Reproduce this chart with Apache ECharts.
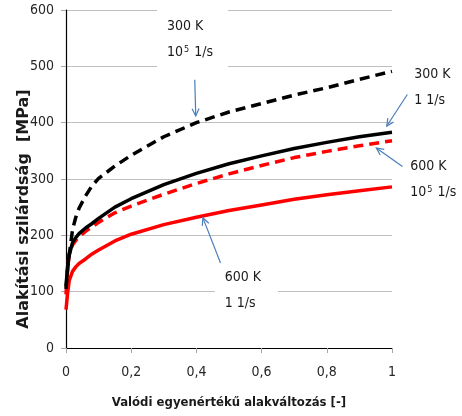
<!DOCTYPE html>
<html>
<head>
<meta charset="utf-8">
<script src="https://cdn.jsdelivr.net/npm/echarts@6/dist/echarts.min.js"></script>
<style>
  html, body { margin: 0; padding: 0; background: #fff; }
  #main { width: 462px; height: 416px; }
</style>
</head>
<body>
<div id="main"></div>
<script>
// true equivalent strain (x) and flow stress in MPa for each curve
var strain   = [0, 0.005, 0.01, 0.02, 0.03, 0.04, 0.06, 0.08, 0.1, 0.15, 0.2, 0.3, 0.4, 0.5, 0.6, 0.7, 0.8, 0.9, 1.0];
var k300Fast = [105, 140, 165, 210, 232, 248, 270, 288, 301, 323, 342, 375, 400, 419, 434, 449, 462, 477, 491];
var k300Slow = [110, 145, 165, 187, 196, 203, 213, 221, 230, 250, 265, 290, 310, 327, 341, 354, 365, 375, 383];
var k600Fast = [95, 140, 168, 183, 191, 197, 207, 215, 223, 240, 252, 273, 292, 309, 324, 338, 349, 359, 368];
var k600Slow = [68, 98, 120, 136, 144, 150, 158, 167, 174, 190, 202, 219, 232, 244, 254, 264, 272, 279, 286];

var xTitle = 'Valódi egyenértékű alakváltozás [-]';
var yTitle = 'Alakítási szilárdság  [MPa]';

function pairs(ys) {
  return strain.map(function (x, i) { return [x, ys[i]]; });
}

var chart = echarts.init(document.getElementById('main'));
var narrow = '"DejaVu Sans Condensed", "Liberation Sans", sans-serif';
var tickFont = { fontFamily: narrow, fontSize: 14, color: '#262626' };
var gray = '#a6a6a6';

function curve(name, ys, color, dashed) {
  return {
    name: name,
    type: 'line',
    data: pairs(ys),
    symbol: 'none',
    smooth: false,
    lineStyle: { color: color, width: 3.5, type: dashed ? [10, 6] : 'solid', join: 'round' },
    silent: true
  };
}

chart.setOption({
  animation: false,
  backgroundColor: '#ffffff',
  grid: { left: 66, right: 70, top: 10, bottom: 68, outerBoundsMode: 'none' },
  xAxis: [{
    type: 'value', min: 0, max: 1, interval: 0.2,
    name: xTitle, nameLocation: 'middle', nameGap: 48,
    nameTextStyle: { fontFamily: narrow, fontSize: 13, fontWeight: 'bold', color: '#1a1a1a' },
    axisLine: { lineStyle: { color: gray, width: 1 } },
    axisTick: { show: true, length: 5, lineStyle: { color: gray } },
    axisLabel: Object.assign({ margin: 17, formatter: function (v) { return String(v).replace('.', ','); } }, tickFont),
    splitLine: { show: false }
  }, {
    type: 'value', min: 0, max: 1, position: 'top',
    axisLine: { show: true, lineStyle: { color: '#000', width: 1.2 } },
    axisTick: { show: false }, axisLabel: { show: false }, splitLine: { show: false }
  }],
  yAxis: [{
    type: 'value', min: 0, max: 600, interval: 100,
    axisLine: { show: true, lineStyle: { color: gray, width: 1 } },
    axisTick: { show: true, length: 5, lineStyle: { color: gray } },
    axisLabel: Object.assign({ margin: 12 }, tickFont),
    splitLine: { show: true, lineStyle: { color: '#bfbfbf', width: 1 } }
  }, {
    type: 'value', min: 0, max: 600, position: 'right',
    axisLine: { show: true, lineStyle: { color: '#000', width: 1.2 } },
    axisTick: { show: false }, axisLabel: { show: false }, splitLine: { show: false }
  }],
  series: [
    curve('600 K 10^5 1/s', k600Fast, '#ff0000', true),
    curve('600 K 1 1/s', k600Slow, '#ff0000', false),
    curve('300 K 10^5 1/s', k300Fast, '#000000', true),
    curve('300 K 1 1/s', k300Slow, '#000000', false)
  ]
});

// annotations: text anchor and arrow ends in data units
var notes = [
  { text: '300 K\n10{s|5} 1/s', at: [0.31, 594], box: [-10, -9, 71, 64], from: [0.395, 476], to: [0.398, 412] },
  { text: '300 K\n1 1/s', at: [1.068, 508], from: [1.047, 450], to: [0.984, 394] },
  { text: '600 K\n10{s|5} 1/s', at: [1.056, 345], from: [1.032, 322], to: [0.952, 355] },
  { text: '600 K\n1 1/s', at: [0.487, 148], box: [-10, -3, 63, 56], from: [0.474, 151], to: [0.42, 231] }
];

var arrowColor = '#4a7ebb';
var els = [];
notes.forEach(function (n) {
  var p = chart.convertToPixel({ gridIndex: 0 }, n.at);
  if (n.box) {
    els.push({ type: 'rect', z: 100, shape: { x: p[0] + n.box[0], y: p[1] + n.box[1], width: n.box[2], height: n.box[3] },
      style: { fill: '#fff' } });
  }
  els.push({ type: 'text', z: 101, x: p[0], y: p[1], style: {
    text: n.text, fontFamily: narrow, fontSize: 14, fill: '#1a1a1a',
    lineHeight: 26, align: 'left', verticalAlign: 'top',
    rich: { s: { fontSize: 9, lineHeight: 12, verticalAlign: 'top', padding: [6, 1, 0, 1], fontFamily: narrow, fill: '#1a1a1a' } }
  } });
  var a = chart.convertToPixel({ gridIndex: 0 }, n.from);
  var b = chart.convertToPixel({ gridIndex: 0 }, n.to);
  var ang = Math.atan2(b[1] - a[1], b[0] - a[0]);
  var hl = 8, spread = 0.45;
  els.push({ type: 'line', z: 102, shape: { x1: a[0], y1: a[1], x2: b[0], y2: b[1] },
    style: { stroke: arrowColor, lineWidth: 1.2 } });
  els.push({ type: 'polyline', z: 102, shape: { points: [
      [b[0] - hl * Math.cos(ang - spread), b[1] - hl * Math.sin(ang - spread)],
      [b[0], b[1]],
      [b[0] - hl * Math.cos(ang + spread), b[1] - hl * Math.sin(ang + spread)]
    ] }, style: { stroke: arrowColor, lineWidth: 1.2, fill: null } });
});

// rotated y-axis title, centred a little below the plot middle
els.push({ type: 'text', z: 101, x: 24, y: 209, rotation: Math.PI / 2, style: {
  text: yTitle, fontFamily: 'DejaVu Sans', fontWeight: 'bold', fontSize: 16, fill: '#1a1a1a',
  align: 'center', verticalAlign: 'middle'
} });

chart.setOption({ graphic: els });
</script>
</body>
</html>
